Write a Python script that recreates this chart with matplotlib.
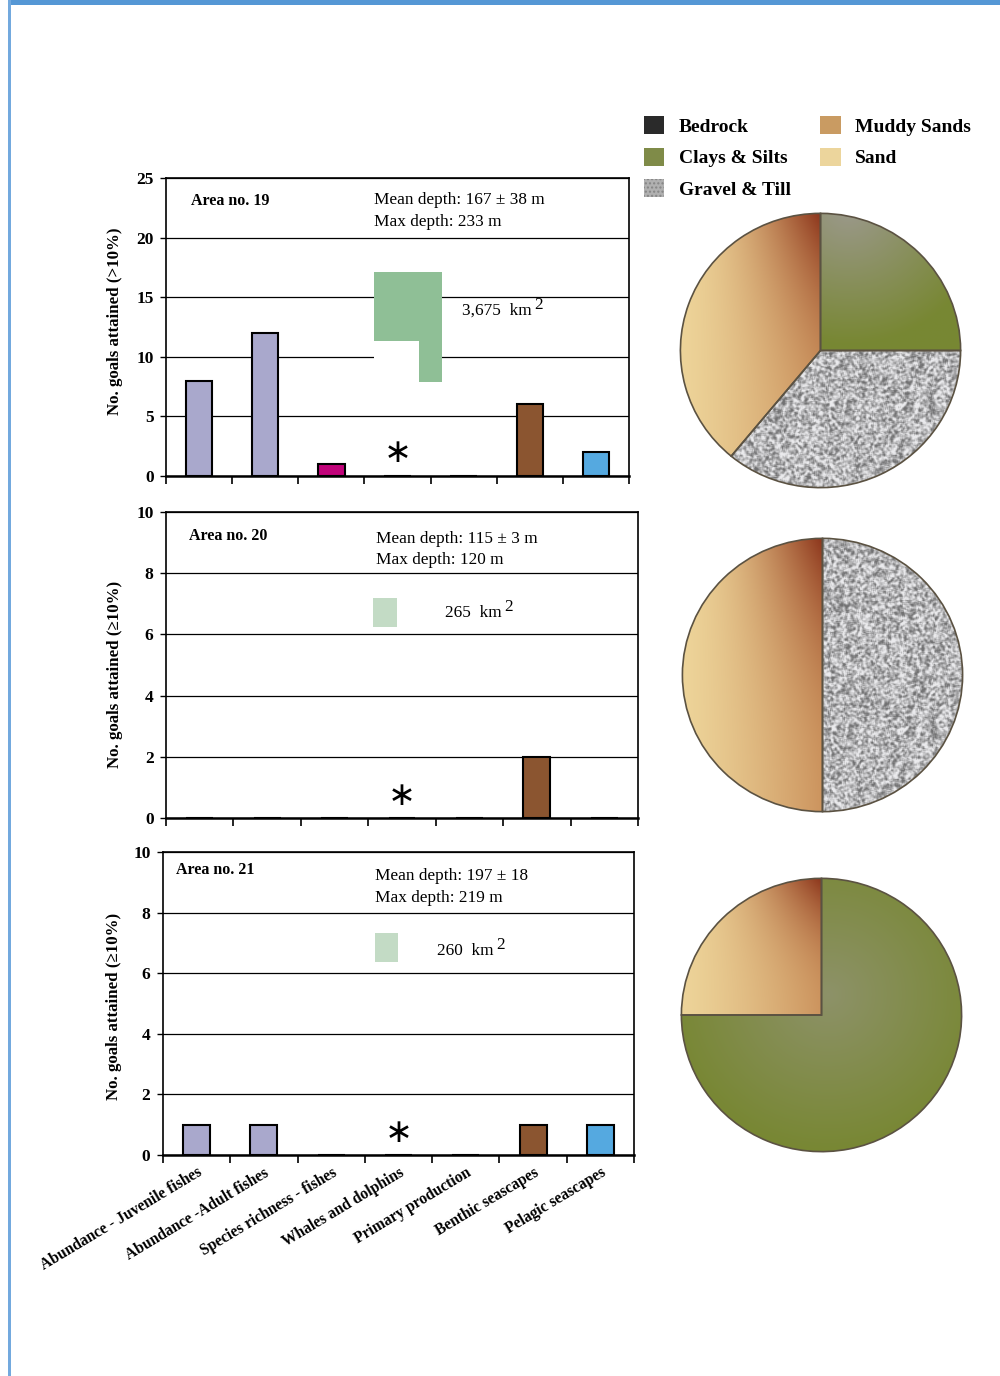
import numpy as np
import matplotlib
matplotlib.use('Agg')
import matplotlib.pyplot as plt
from matplotlib.patches import Rectangle, Polygon, Patch

plt.rcParams['font.family'] = ['Liberation Serif', 'DejaVu Serif']
plt.rcParams['mathtext.fontset'] = 'stix'

# ---------------- data ----------------
categories = ["Abundance - Juvenile fishes", "Abundance -Adult fishes",
              "Species richness - fishes", "Whales and dolphins",
              "Primary production", "Benthic seascapes", "Pelagic seascapes"]
bar_colors = ['#a9a8cc', '#a9a8cc', '#c1037a', '#8c8c8c', '#5a9a50',
              '#8b5530', '#55a9e0']

area_names = ["Area no. 19", "Area no. 20", "Area no. 21"]
goals_area19 = [8, 12, 1, 0, 0, 6, 2]
goals_area20 = [0, 0, 0, 0, 0, 2, 0]
goals_area21 = [1, 1, 0, 0, 0, 1, 1]
mean_depth_labels = ["Mean depth: 167 ± 38 m", "Mean depth: 115 ± 3 m",
                     "Mean depth: 197 ± 18"]
max_depth_labels = ["Max depth: 233 m", "Max depth: 120 m", "Max depth: 219 m"]
area_sizes = ["3,675", "265", "260"]
y_labels = ["No. goals attained (>10%)", "No. goals attained (≥10%)",
            "No. goals attained (≥10%)"]
y_max = [25, 10, 10]
y_step = [5, 2, 2]

substrate_names = ["Bedrock", "Clays & Silts", "Gravel & Till",
                   "Muddy Sands", "Sand"]
substrate_colors = ['#2a2a2a', '#7f8b48', '#b0b0b0', '#c99b62', '#ecd59c']

pie_labels_19 = ["Clays & Silts", "Gravel & Till", "Sand"]
pie_values_19 = [25, 36, 39]
pie_labels_20 = ["Gravel & Till", "Sand"]
pie_values_20 = [50, 50]
pie_labels_21 = ["Clays & Silts", "Sand"]
pie_values_21 = [75, 25]

# ---------------- figure ----------------
fig = plt.figure(figsize=(10, 13.76), dpi=100)
H = 1376.0

def fx(px):
    return px / 1000.0

def fy(py):
    return 1 - py / H

bar_boxes = [(166, 178, 629, 476), (166, 512, 638, 818), (163, 852, 634, 1155)]
pie_boxes = [(679, 212, 962, 489), (681, 537, 964, 813), (680, 877, 963, 1153)]

# ---- page border ----
fig.add_artist(Rectangle((fx(8), fy(5)), 1 - fx(8), 5 / H,
                         transform=fig.transFigure, color='#5597d5', lw=0))
fig.add_artist(Rectangle((fx(8), 0), fx(2.5), 1, transform=fig.transFigure,
                         color='#73a9de', lw=0))

goals = [goals_area19, goals_area20, goals_area21]
x = np.arange(len(categories))

# decorative inset text / shape positions (axes fractions)
mean_pos = [(0.449, 0.926, 0.852), (0.445, 0.912, 0.843), (0.450, 0.921, 0.848)]
area_pos = [(0.054, 0.923), (0.049, 0.922), (0.028, 0.941)]
size_pos = [(0.639, 0.554), (0.591, 0.670), (0.582, 0.673)]
ast_pos = [0.08, 0.075, 0.075]
ylab_x = [-0.093, -0.091, -0.088]
ylab_y = [0.52, 0.47, 0.49]

for k in range(3):
    l, t, r, b = bar_boxes[k]
    ax = fig.add_axes([fx(l), fy(b), fx(r - l), (b - t) / H])
    ax.bar(x, goals[k], width=0.4, color=bar_colors, edgecolor='black',
           linewidth=1.5, zorder=3)
    ax.set_xlim(-0.5, len(categories) - 0.5)
    ax.set_ylim(0, y_max[k])
    ax.set_yticks(np.arange(0, y_max[k] + 1, y_step[k]))
    ax.yaxis.grid(True, color='black', linewidth=0.9)
    ax.set_axisbelow(True)
    ax.set_xticks(np.arange(len(categories) + 1) - 0.5)
    ax.set_xticklabels([])
    ax.tick_params(axis='x', which='major', direction='out', length=6, width=1.2)
    ax.tick_params(axis='y', direction='out', length=4, width=1.0, pad=5,
                   labelsize=12.5)
    for lab in ax.get_yticklabels():
        lab.set_fontweight('bold')
    for s in ax.spines.values():
        s.set_linewidth(1.2)
    ax.spines['bottom'].set_linewidth(1.8)
    ax.set_ylabel(y_labels[k], fontsize=12.2, fontweight='bold')
    ax.yaxis.set_label_coords(ylab_x[k], ylab_y[k])

    if k == 2:
        ax.set_xticks(x, minor=True)
        ax.set_xticklabels(categories, minor=True, rotation=31, ha='right',
                           va='top', rotation_mode='anchor', fontsize=11.2,
                           fontweight='bold')
        ax.tick_params(axis='x', which='minor', length=0, pad=7)

    ax.text(area_pos[k][0], area_pos[k][1], area_names[k], transform=ax.transAxes,
            fontsize=11.5, fontweight='bold', va='center', ha='left')
    ax.text(mean_pos[k][0], mean_pos[k][1], mean_depth_labels[k],
            transform=ax.transAxes, fontsize=12.4, va='center', ha='left')
    ax.text(mean_pos[k][0], mean_pos[k][2], max_depth_labels[k],
            transform=ax.transAxes, fontsize=12.4, va='center', ha='left')
    st = ax.text(size_pos[k][0], size_pos[k][1], area_sizes[k] + "  km",
                 transform=ax.transAxes, fontsize=12.4, va='center', ha='left')
    ax.annotate("2", xy=(1.0, 1.35), xycoords=st, fontsize=12.4, va='top',
                ha='left', xytext=(2, 0), textcoords='offset points')
    ax.annotate("∗", xy=(3, ast_pos[k]), xycoords=('data', 'axes fraction'),
                fontsize=24, family='DejaVu Sans', ha='center', va='center')

    # area map inset
    if k == 0:
        ax.add_patch(Rectangle((0.449, 0.315), 0.147, 0.37, transform=ax.transAxes,
                               facecolor='white', edgecolor='none', zorder=4))
        shape = [(0.449, 0.685), (0.596, 0.685), (0.596, 0.315), (0.546, 0.315),
                 (0.546, 0.453), (0.449, 0.453)]
        ax.add_patch(Polygon(shape, closed=True, transform=ax.transAxes,
                             facecolor='#8fbf96', edgecolor='none', zorder=5))
    elif k == 1:
        ax.add_patch(Rectangle((0.439, 0.624), 0.050, 0.095, transform=ax.transAxes,
                               facecolor='#c3dbc5', edgecolor='none', zorder=4))
    else:
        ax.add_patch(Rectangle((0.450, 0.637), 0.049, 0.096, transform=ax.transAxes,
                               facecolor='#c3dbc5', edgecolor='none', zorder=4))

# ---------------- pies ----------------
color_of = dict(zip(substrate_names, substrate_colors))

N = 300
gx = np.linspace(-1, 1, N)
GX, GY = np.meshgrid(gx, gx)


def wedge_bbox(w):
    th = np.radians(np.linspace(w.theta1, w.theta2, 200))
    xs = np.concatenate([np.cos(th), [0]])
    ys = np.concatenate([np.sin(th), [0]])
    return xs.min(), xs.max(), ys.min(), ys.max()


def lerp(a, b, t):
    a = np.array(a)[None, None, :]
    b = np.array(b)[None, None, :]
    return a + (b - a) * t[..., None]


def sand_img(w):
    x0, x1, y0, y1 = wedge_bbox(w)
    u = np.clip((GX - x0) / (x1 - x0), 0, 1)
    v = np.clip((GY - y0) / (y1 - y0), 0, 1)
    light = (0.93, 0.83, 0.60)
    tan = (0.80, 0.58, 0.37)
    red = np.array((0.55, 0.21, 0.11))[None, None, :]
    c = lerp(light, tan, u ** 1.3)
    rr = (np.clip(u * v, 0, 1) ** 2.3)[..., None]
    return np.clip(c * (1 - rr) + red * rr, 0, 1)


def clay_img(focal):
    fxp, fyp, D, strength = focal
    d = np.hypot(GX - fxp, GY - fyp)
    g = np.clip(1 - d / D, 0, 1) * strength
    grey = (0.61, 0.60, 0.55)
    olive = (0.47, 0.53, 0.20)
    return lerp(olive, grey, g)


def gravel_img(n=300):
    i, j = np.meshgrid(np.arange(n), np.arange(n))
    h = np.sin(i * 12.9898 + j * 78.233) * 43758.5453
    h = h - np.floor(h)
    s = sum(np.roll(np.roll(h, di, 0), dj, 1) for di in (-1, 0, 1)
            for dj in (-1, 0, 1)) / 9.0
    v = np.clip(0.72 + (s - 0.5) * 1.5, 0.45, 0.93)
    return np.dstack([v * 0.99, v * 0.99, v])


pie_sets = [(pie_labels_19, pie_values_19, (0.2, 1.05, 1.0, 1.0)),
            (pie_labels_20, pie_values_20, None),
            (pie_labels_21, pie_values_21, (0.05, 0.15, 1.15, 0.6))]

for k in range(3):
    l, t, r, b = pie_boxes[k]
    pax = fig.add_axes([fx(l), fy(b), fx(r - l), (b - t) / H])
    labels, values, focal = pie_sets[k]
    wedges, _ = pax.pie(values, startangle=90, counterclock=False,
                        colors=[color_of[s] for s in labels],
                        wedgeprops=dict(edgecolor='#5b5242', linewidth=1.2))
    for w, lab in zip(wedges, labels):
        if lab == "Sand":
            img = sand_img(w)
        elif lab == "Clays & Silts":
            img = clay_img(focal)
        else:
            img = gravel_img()
        im = pax.imshow(img, extent=(-1, 1, -1, 1), origin='lower', aspect='auto',
                        interpolation='bilinear', zorder=0.5)
        im.set_clip_path(w)
        w.set_facecolor('none')
        w.set_zorder(2)
    pax.set_aspect('auto')
    pax.set_xlim(-1.01, 1.01)
    pax.set_ylim(-1.01, 1.01)
    pax.axis('off')

# ---------------- legend ----------------
handles = []
for name, col in zip(substrate_names, substrate_colors):
    if name == "Gravel & Till":
        handles.append(Patch(facecolor=col, edgecolor='#858585', hatch='....',
                             linewidth=0))
    else:
        handles.append(Patch(facecolor=col, edgecolor='none'))
fig.legend(handles, substrate_names, loc='upper left',
           bbox_to_anchor=(fx(644), fy(116)), ncol=2, frameon=False,
           prop=dict(family='Liberation Serif', weight='bold', size=14),
           handlelength=1.05, handleheight=1.05, handletextpad=0.75,
           columnspacing=1.5, labelspacing=0.62, borderpad=0, borderaxespad=0)

fig.savefig('out.png', dpi=100)
